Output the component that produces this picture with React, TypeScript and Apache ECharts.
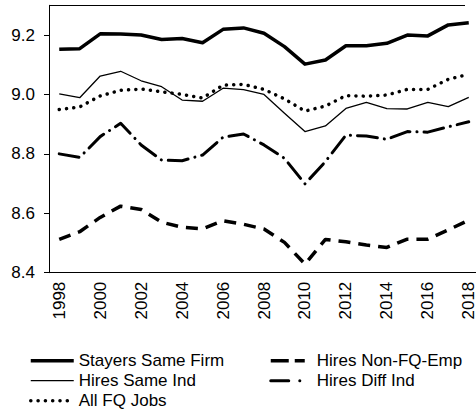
import React, { useEffect, useRef } from "react";
import * as echarts from "echarts";

const years = ["1998","1999","2000","2001","2002","2003","2004","2005","2006","2007","2008","2009","2010","2011","2012","2013","2014","2015","2016","2017","2018"];
const stayersSameFirm = [9.152, 9.154, 9.204, 9.203, 9.2, 9.185, 9.188, 9.174, 9.219, 9.224, 9.206, 9.161, 9.102, 9.116, 9.164, 9.164, 9.172, 9.2, 9.197, 9.234, 9.241];
const hiresSameInd = [9.002, 8.989, 9.062, 9.078, 9.046, 9.026, 8.981, 8.977, 9.021, 9.016, 9.0, 8.937, 8.875, 8.894, 8.953, 8.973, 8.952, 8.951, 8.973, 8.959, 8.99];
const allFQJobs = [8.949, 8.958, 8.995, 9.014, 9.018, 9.009, 9.0, 8.988, 9.031, 9.034, 9.017, 8.985, 8.944, 8.961, 8.996, 8.994, 8.998, 9.017, 9.017, 9.051, 9.068];
const hiresNonFQEmp = [8.512, 8.538, 8.586, 8.624, 8.613, 8.57, 8.553, 8.548, 8.575, 8.563, 8.547, 8.502, 8.429, 8.512, 8.504, 8.493, 8.485, 8.513, 8.513, 8.544, 8.577];
const hiresDiffInd = [8.8, 8.788, 8.858, 8.903, 8.83, 8.779, 8.777, 8.796, 8.856, 8.867, 8.83, 8.785, 8.699, 8.774, 8.863, 8.86, 8.849, 8.875, 8.873, 8.891, 8.908];
const yTicks = [8.4, 8.6, 8.8, 9.0, 9.2];

const FONT = "Liberation Sans";

export default function App() {
  const ref = useRef<HTMLDivElement>(null);
  useEffect(() => {
    const chart = echarts.init(ref.current!, null, { renderer: "svg" });
    const mk = (name: string, data: number[], width: number, type: any, cap: any = "butt") => ({
      name,
      type: "line",
      data,
      symbol: "none",
      showSymbol: false,
      lineStyle: { color: "#000", width, type, cap, join: "round" },
      itemStyle: { color: "#000" },
    });
    const legendBase = {
      orient: "vertical",
      top: 351.7,
      padding: 0,
      itemHeight: 10,
      itemGap: 2,
      height: 62,
      itemStyle: { opacity: 0 },
      textStyle: { fontSize: 17, color: "#000", fontFamily: FONT, lineHeight: 18 },
      selectedMode: false,
    };
    chart.setOption({
      animation: false,
      backgroundColor: "#fff",
      textStyle: { fontFamily: FONT },
      grid: { left: 49, top: 5.3, height: 267.4, width: 430, outerBoundsMode: "none", containLabel: false },
      xAxis: {
        type: "category",
        data: years,
        boundaryGap: true,
        axisLine: { lineStyle: { color: "#000", width: 1 } },
        axisTick: { interval: 0, length: 5, lineStyle: { color: "#000" } },
        axisLabel: { interval: 1, rotate: 90, fontSize: 17, lineHeight: 12, padding: [0, 0, 4, 0], color: "#000", fontFamily: FONT, margin: 9 },
        splitLine: { show: false },
      },
      yAxis: {
        type: "value",
        min: 8.4,
        max: 9.3,
        interval: 0.1,
        axisLine: { show: true, lineStyle: { color: "#000", width: 1 } },
        axisTick: { show: true, length: 5, lineStyle: { color: "#000" }, customValues: yTicks },
        axisLabel: { fontSize: 17, color: "#000", fontFamily: FONT, margin: 14, customValues: yTicks, formatter: (v: number) => v.toFixed(1) },
        splitLine: { show: false },
      },
      legend: [
        {
          ...legendBase,
          left: 29,
          itemWidth: 43,
          data: [
            { name: "Stayers Same Firm", lineStyle: { width: 3.5, type: "solid", color: "#000" } },
            { name: "Hires Same Ind", lineStyle: { width: 1.3, type: "solid", color: "#000" } },
            { name: "All FQ Jobs", lineStyle: { width: 3.5, type: [0.1, 7.2], cap: "round", color: "#000" } },
          ],
        },
        {
          ...legendBase,
          left: 269,
          itemWidth: 41,
          data: [
            { name: "Hires Non-FQ-Emp", lineStyle: { width: 3.5, type: [18, 6, 10, 20], color: "#000" } },
            { name: "Hires Diff Ind", lineStyle: { width: 3, type: [18, 11, 0.1, 30], cap: "round", color: "#000" } },
          ],
        },
      ],
      graphic: [
        { type: "line", shape: { x1: 49, y1: 5.5, x2: 465, y2: 5.5 }, style: { stroke: "#000", lineWidth: 1 } },
      ],
      series: [
        mk("Stayers Same Firm", stayersSameFirm, 3.5, "solid"),
        mk("Hires Same Ind", hiresSameInd, 1.3, "solid"),
        mk("All FQ Jobs", allFQJobs, 3.5, [0.1, 7.2], "round"),
        mk("Hires Non-FQ-Emp", hiresNonFQEmp, 3.5, [12, 8]),
        mk("Hires Diff Ind", hiresDiffInd, 3, [20, 7, 0.1, 7], "round"),
      ],
    });
    return () => chart.dispose();
  }, []);
  return <div ref={ref} style={{ position: "fixed", left: 0, top: 0, width: 476, height: 414 }} />;
}
